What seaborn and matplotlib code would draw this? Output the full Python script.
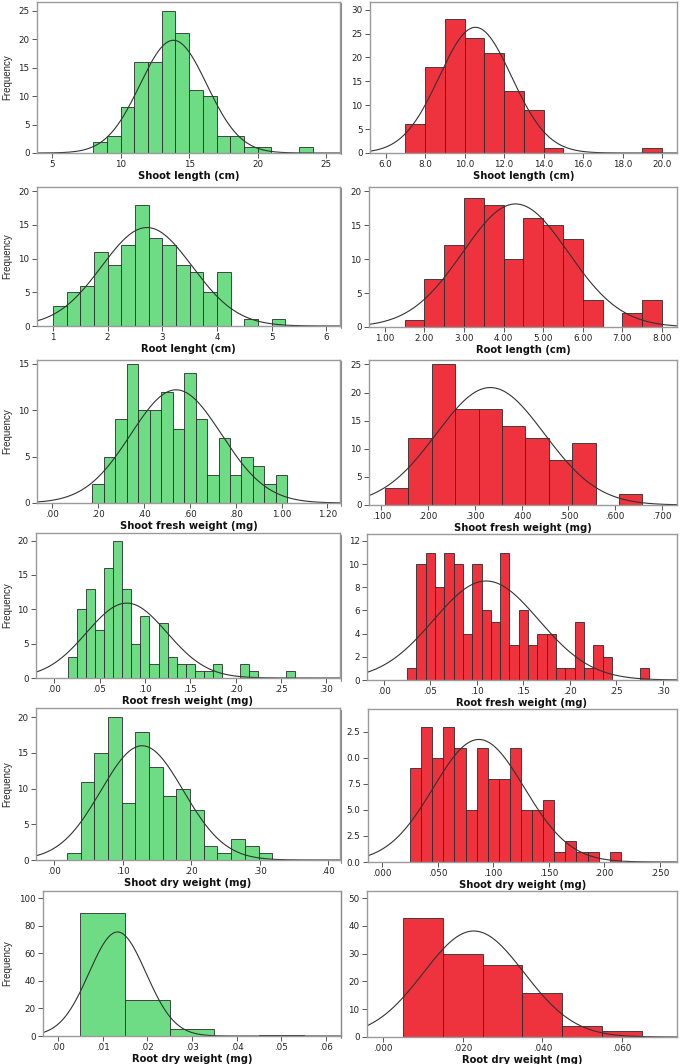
import numpy as np
import pandas as pd
import matplotlib
matplotlib.use('Agg')
import matplotlib.pyplot as plt
import seaborn as sns
from matplotlib.lines import Line2D

# colours
GREEN = '#6ddc84'
RED = '#ee323e'

# ---- values: bin counts, first bin edge, bin width, fitted mean / sd
# row 1 - shoot length
sl_g_counts = [2, 3, 8, 16, 16, 25, 21, 11, 10, 3, 3, 1, 1, 0, 0, 1]
sl_g_start, sl_g_width, sl_g_mean, sl_g_sd = 8, 1, 13.85, 2.44
sl_r_counts = [6, 18, 28, 24, 21, 13, 9, 1, 0, 0, 0, 0, 1]
sl_r_start, sl_r_width, sl_r_mean, sl_r_sd = 7, 1, 10.55, 1.835

# row 2 - root length
rl_g_counts = [3, 5, 6, 11, 9, 12, 18, 13, 12, 9, 8, 5, 8, 0, 1, 0, 1]
rl_g_start, rl_g_width, rl_g_mean, rl_g_sd = 1.0, 0.25, 2.72, 0.827
rl_r_counts = [1, 7, 12, 19, 18, 10, 16, 15, 13, 4, 0, 2, 4]
rl_r_start, rl_r_width, rl_r_mean, rl_r_sd = 1.5, 0.5, 4.3, 1.333

# row 3 - shoot fresh weight
sfw_g_counts = [2, 5, 9, 15, 10, 10, 12, 8, 14, 9, 3, 7, 3, 5, 4, 2, 3]
sfw_g_start, sfw_g_width, sfw_g_mean, sfw_g_sd = 0.175, 0.05, 0.54, 0.198
sfw_r_counts = [3, 12, 25, 17, 17, 14, 12, 8, 11, 0, 2]
sfw_r_start, sfw_r_width, sfw_r_mean, sfw_r_sd = 0.108, 0.05, 0.333, 0.1155

# row 4 - root fresh weight
rfw_g_counts = [3, 10, 13, 7, 16, 20, 13, 5, 9, 2, 8, 3, 2, 2, 1, 1, 2, 0, 0, 2, 1, 0, 0, 0, 1]
rfw_g_start, rfw_g_width, rfw_g_mean, rfw_g_sd = 0.015, 0.01, 0.08, 0.0443
rfw_r_counts = [1, 10, 11, 8, 11, 10, 4, 10, 6, 5, 11, 3, 6, 3, 4, 4, 1, 1, 5, 1, 3, 2, 0, 0, 0, 1]
rfw_r_start, rfw_r_width, rfw_r_mean, rfw_r_sd = 0.025, 0.01, 0.11, 0.0565

# row 5 - shoot dry weight
sdw_g_counts = [1, 11, 15, 20, 8, 18, 13, 9, 10, 7, 2, 1, 3, 2, 1]
sdw_g_start, sdw_g_width, sdw_g_mean, sdw_g_sd = 0.018, 0.02, 0.128, 0.0603
sdw_r_counts = [9, 13, 10, 13, 11, 5, 11, 8, 8, 11, 5, 5, 6, 1, 2, 1, 1, 0, 1]
sdw_r_start, sdw_r_width, sdw_r_mean, sdw_r_sd = 0.025, 0.01, 0.087, 0.041

# row 6 - root dry weight
rdw_g_counts = [89, 26, 5, 0, 1]
rdw_g_start, rdw_g_width, rdw_g_mean, rdw_g_sd = 0.005, 0.01, 0.0133, 0.00639
rdw_r_counts = [43, 30, 26, 16, 4, 2]
rdw_r_start, rdw_r_width, rdw_r_mean, rdw_r_sd = 0.005, 0.01, 0.0228, 0.01264

# axis labels / ticks
xlabels = ['Shoot length (cm)', 'Shoot length (cm)', 'Root lenght (cm)', 'Root length (cm)',
           'Shoot fresh weight (mg)', 'Shoot fresh weight (mg)', 'Root fresh weight (mg)',
           'Root fresh weight (mg)', 'Shoot dry weight (mg)', 'Shoot dry weight (mg)',
           'Root dry weight (mg)', 'Root dry weight (mg)']
xticks = [[5, 10, 15, 20, 25], [6, 8, 10, 12, 14, 16, 18, 20],
          [1, 2, 3, 4, 5, 6], [1, 2, 3, 4, 5, 6, 7, 8],
          [0, .2, .4, .6, .8, 1.0, 1.2], [.1, .2, .3, .4, .5, .6, .7],
          [0, .05, .1, .15, .2, .25, .3], [0, .05, .1, .15, .2, .25, .3],
          [0, .1, .2, .3, .4], [0, .05, .1, .15, .2, .25],
          [0, .01, .02, .03, .04, .05, .06], [0, .02, .04, .06]]
xticklabels = [['5', '10', '15', '20', '25'],
               ['6.0', '8.0', '10.0', '12.0', '14.0', '16.0', '18.0', '20.0'],
               ['1', '2', '3', '4', '5', '6'],
               ['1.00', '2.00', '3.00', '4.00', '5.00', '6.00', '7.00', '8.00'],
               ['.00', '.20', '.40', '.60', '.80', '1.00', '1.20'],
               ['.100', '.200', '.300', '.400', '.500', '.600', '.700'],
               ['.00', '.05', '.10', '.15', '.20', '.25', '.30'],
               ['.00', '.05', '.10', '.15', '.20', '.25', '.30'],
               ['.00', '.10', '.20', '.30', '.40'],
               ['.000', '.050', '.100', '.150', '.200', '.250'],
               ['.00', '.01', '.02', '.03', '.04', '.05', '.06'],
               ['.000', '.020', '.040', '.060']]
yticks = [[0, 5, 10, 15, 20, 25], [0, 5, 10, 15, 20, 25, 30],
          [0, 5, 10, 15, 20], [0, 5, 10, 15, 20],
          [0, 5, 10, 15], [0, 5, 10, 15, 20, 25],
          [0, 5, 10, 15, 20], [0, 2, 4, 6, 8, 10, 12],
          [0, 5, 10, 15, 20], [0, 2.5, 5, 7.5, 10, 12.5],
          [0, 20, 40, 60, 80, 100], [0, 10, 20, 30, 40, 50]]
# the clipped labels as they appear in the picture
sdw_r_yticklabels = ['0.0', '2.5', '5.0', '7.5', '0.0', '2.5']

xlims = [(3.9, 26.0), (5.21, 20.76), (0.71, 6.25), (0.60, 8.38),
         (-0.067, 1.255), (0.0736, 0.732), (-0.02, 0.315), (-0.018, 0.315),
         (-0.027, 0.417), (-0.0129, 0.2656), (-0.0034, 0.0634), (-0.004, 0.0738)]
ylims = [26.5, 31.6, 20.6, 20.6, 15.4, 25.8, 21.1, 12.6, 21.3, 14.7, 105.3, 52.6]

# axes boxes in pixels: left, top, right, bottom
boxes = [(37, 2, 340, 153), (370, 2, 677, 153),
         (37, 187, 340, 326), (369, 187, 677, 327),
         (37, 360, 340, 503), (369, 360, 677, 505),
         (36, 533, 340, 678), (367, 534, 677, 680),
         (36, 708, 340, 860), (368, 709, 677, 862),
         (43, 891, 341, 1036), (367, 891, 677, 1037)]

hists = [(sl_g_counts, sl_g_start, sl_g_width, sl_g_mean, sl_g_sd, GREEN),
         (sl_r_counts, sl_r_start, sl_r_width, sl_r_mean, sl_r_sd, RED),
         (rl_g_counts, rl_g_start, rl_g_width, rl_g_mean, rl_g_sd, GREEN),
         (rl_r_counts, rl_r_start, rl_r_width, rl_r_mean, rl_r_sd, RED),
         (sfw_g_counts, sfw_g_start, sfw_g_width, sfw_g_mean, sfw_g_sd, GREEN),
         (sfw_r_counts, sfw_r_start, sfw_r_width, sfw_r_mean, sfw_r_sd, RED),
         (rfw_g_counts, rfw_g_start, rfw_g_width, rfw_g_mean, rfw_g_sd, GREEN),
         (rfw_r_counts, rfw_r_start, rfw_r_width, rfw_r_mean, rfw_r_sd, RED),
         (sdw_g_counts, sdw_g_start, sdw_g_width, sdw_g_mean, sdw_g_sd, GREEN),
         (sdw_r_counts, sdw_r_start, sdw_r_width, sdw_r_mean, sdw_r_sd, RED),
         (rdw_g_counts, rdw_g_start, rdw_g_width, rdw_g_mean, rdw_g_sd, GREEN),
         (rdw_r_counts, rdw_r_start, rdw_r_width, rdw_r_mean, rdw_r_sd, RED)]

sns.set_style('white')
plt.rcParams['font.family'] = ['DejaVu Sans']

W, H = 685, 1064
fig = plt.figure(figsize=(W / 100, H / 100), dpi=100)

for i, (counts, start, width, mean, sd, col) in enumerate(hists):
    l, t, r, b = boxes[i]
    ax = fig.add_axes([l / W, 1 - b / H, (r - l) / W, (b - t) / H])

    counts = np.array(counts)
    edges = start + width * np.arange(len(counts) + 1)
    df = pd.DataFrame({'x': edges[:-1] + width / 2, 'n': counts})
    df = df[df.n > 0]
    sns.histplot(data=df, x='x', weights='n', bins=edges.tolist(), color=col,
                 edgecolor='#2b2b2b', linewidth=0.6, alpha=1, ax=ax)

    # fitted normal curve, scaled to counts
    n = counts.sum()
    xs = np.linspace(xlims[i][0], xlims[i][1], 400)
    ys = n * width / (sd * np.sqrt(2 * np.pi)) * np.exp(-0.5 * ((xs - mean) / sd) ** 2)
    ax.plot(xs, ys, color='#333333', lw=0.8)

    ax.set_xlim(xlims[i])
    ax.set_ylim(0, ylims[i])
    ax.set_xticks(xticks[i])
    ax.set_xticklabels(xticklabels[i])
    ax.set_yticks(yticks[i])
    if i == 9:
        ax.set_yticklabels(sdw_r_yticklabels)
    else:
        ax.set_yticklabels([str(v) for v in yticks[i]])
    ax.set_ylabel('')
    ax.set_xlabel(xlabels[i], fontsize=7.2, fontweight='bold', labelpad=1.5,
                  color='#111111')

    for s in ax.spines.values():
        s.set_color('#9a9a9a')
        s.set_linewidth(1.0)
    ax.tick_params(direction='out', length=3.5, width=0.7, color='#555555',
                   labelsize=6.3, labelcolor='#222222', pad=1.8,
                   bottom=True, left=True)

    if i % 2 == 0:
        fig.text(7 / W, 1 - (t + b) / 2 / H, 'Frequency', rotation=90,
                 ha='center', va='center', fontsize=7,
                 family=['Liberation Sans Narrow', 'Liberation Sans'])
    else:
        # thin edge line left over from the pasted panels
        fig.add_artist(Line2D([341 / W, 341 / W], [1 - (b + 1) / H, 1 - (t + 1) / H],
                              color='#8a8a8a', lw=0.8))

fig.savefig('out.png', dpi=100)
